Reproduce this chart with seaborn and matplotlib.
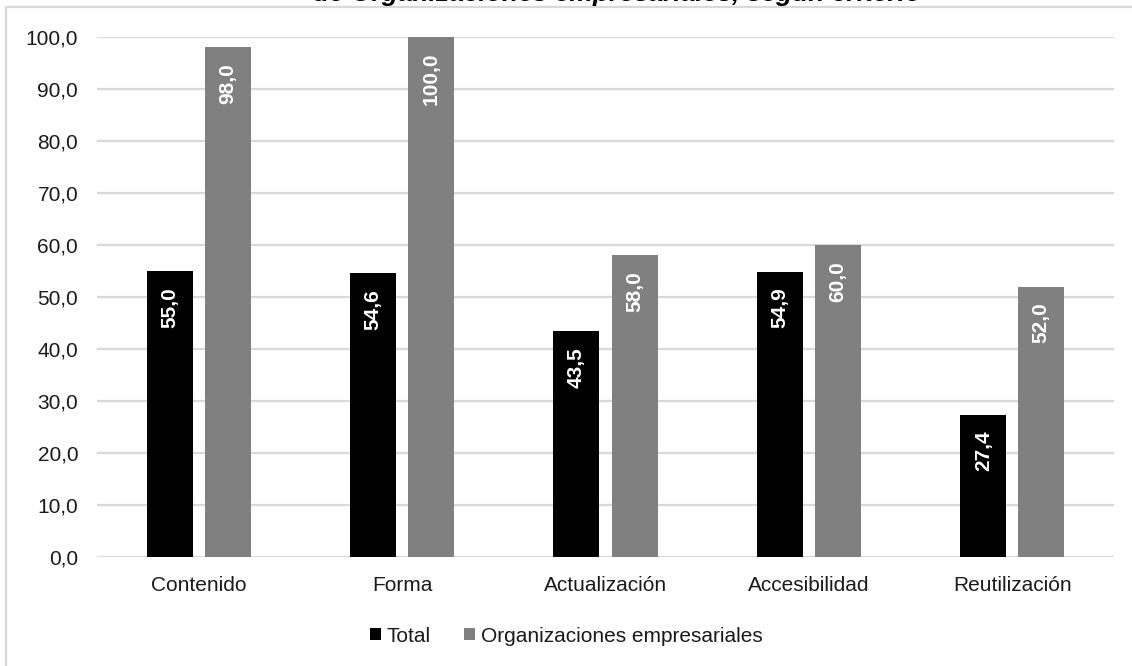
import matplotlib
matplotlib.use("Agg")
import matplotlib.pyplot as plt
import seaborn as sns
import pandas as pd
from matplotlib.patches import Rectangle
from matplotlib.ticker import FuncFormatter

categories = ["Contenido", "Forma", "Actualización", "Accesibilidad", "Reutilización"]
series_names = ["Total", "Organizaciones empresariales"]
total_values = [55.0, 54.6, 43.5, 54.9, 27.4]
org_values = [98.0, 100.0, 58.0, 60.0, 52.0]
colors = ["#000000", "#808080"]
title_text = "de Organizaciones empresariales, según criterio"

sns.set_theme(style="white")
plt.rcParams["font.family"] = ["Liberation Sans", "DejaVu Sans"]

df = pd.DataFrame({
    "Criterio": categories * 2,
    "Serie": [series_names[0]] * len(categories) + [series_names[1]] * len(categories),
    "Valor": total_values + org_values,
})

W, H = 1132, 666
fig = plt.figure(figsize=(W / 100, H / 100), dpi=100)
ax = fig.add_axes([97 / W, 1 - 557 / H, (1114 - 97) / W, (557 - 37) / H])

sns.barplot(data=df, x="Criterio", y="Valor", hue="Serie", palette=colors,
            order=categories, hue_order=series_names, width=0.571, gap=0.207,
            saturation=1, ax=ax, legend=True, errorbar=None, linewidth=0)

ax.set_ylim(0, 100)
ax.set_yticks(range(0, 101, 10))
ax.yaxis.set_major_formatter(FuncFormatter(lambda v, p: f"{v:.1f}".replace(".", ",")))
ax.set_xlabel("")
ax.set_ylabel("")
for s in ax.spines.values():
    s.set_visible(False)
ax.yaxis.grid(True, color="#d9d9d9", lw=1.6)
ax.set_axisbelow(True)
ax.tick_params(axis="y", length=0, labelsize=15, pad=13.5, labelcolor="#1a1a1a")
ax.tick_params(axis="x", length=0, labelsize=15, pad=14, labelcolor="#1a1a1a")

for cont in ax.containers:
    for bar in cont:
        h = bar.get_height()
        ax.annotate(f"{h:.1f}".replace(".", ","),
                    xy=(bar.get_x() + bar.get_width() / 2, h),
                    xytext=(0, -11.5), textcoords="offset points",
                    ha="center", va="top", rotation=90,
                    color="white", fontsize=15, fontweight="bold")

leg = ax.get_legend()
handles = leg.legend_handles
leg.remove()
fig.legend(handles, series_names, loc="center", bbox_to_anchor=(0.5, 1 - 636 / H),
           ncol=2, frameon=False, fontsize=15, handlelength=0.55, handleheight=0.55,
           handletextpad=0.25, columnspacing=1.6, labelcolor="#1a1a1a")

fig.patches.append(Rectangle((6 / W, -0.02), 1.1, (H - 7) / H + 0.02,
                             transform=fig.transFigure, fill=False,
                             ec="#d9d9d9", lw=1.6))

fig.text(617 / W, 1 - 1 / H, title_text, ha="center", va="baseline",
         fontsize=19, fontweight="bold", fontstyle="italic", color="black")

fig.savefig("out.png", dpi=100)
